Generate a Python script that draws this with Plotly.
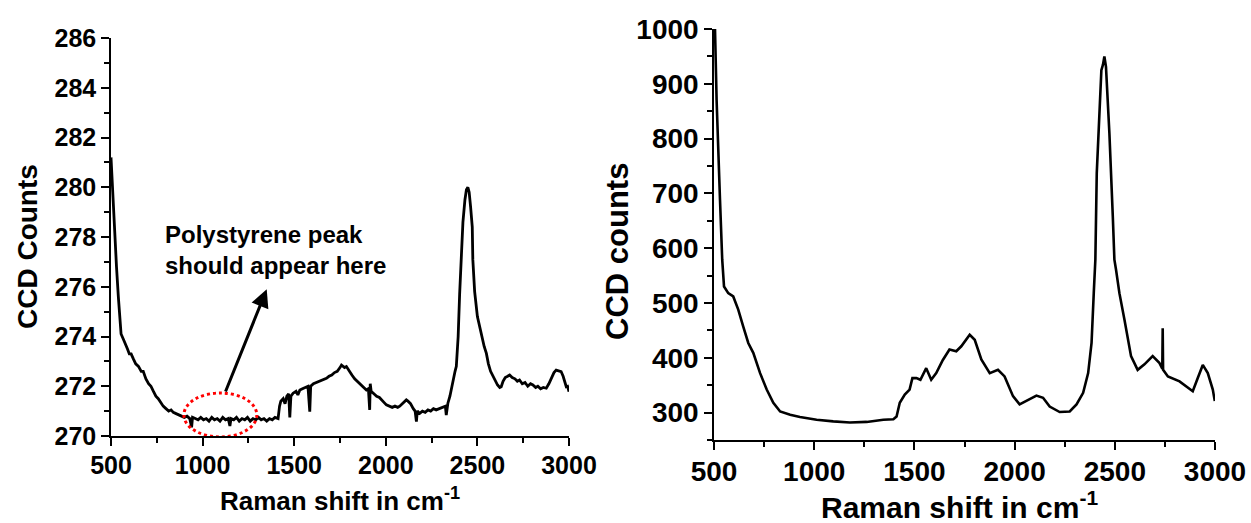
import plotly.graph_objects as go

# ---------------- data ----------------
left_shift = [500, 505, 512, 520, 530, 540, 549, 555, 567, 580, 590, 600, 610, 622, 635, 650, 665, 676,
              690, 705, 718, 731, 745, 758, 770, 785, 800, 815, 828, 840, 855, 870, 885, 900, 915, 930,
              940, 945, 960, 975, 990, 1005, 1020, 1035, 1050, 1065, 1080, 1095, 1110, 1125, 1140, 1149,
              1155, 1170, 1185, 1200, 1215, 1230, 1245, 1260, 1275, 1290, 1305, 1320, 1335, 1350, 1365,
              1380, 1395, 1412, 1420, 1427, 1440, 1450, 1460, 1470, 1476, 1482, 1494, 1510, 1520, 1531,
              1545, 1560, 1575, 1585, 1590, 1605, 1620, 1635, 1650, 1665, 1676, 1690, 1705, 1720, 1735,
              1750, 1758, 1767, 1775, 1785, 1800, 1815, 1830, 1845, 1857, 1870, 1885, 1894, 1905, 1912,
              1915, 1920, 1935, 1950, 1965, 1980, 1990, 2003, 2020, 2035, 2050, 2065, 2076, 2090, 2105,
              2112, 2121, 2135, 2150, 2160, 2167, 2172, 2185, 2200, 2215, 2230, 2245, 2260, 2275, 2294,
              2310, 2325, 2330, 2339, 2350, 2360, 2367, 2378, 2385, 2395, 2403, 2412, 2421, 2432, 2440,
              2448, 2455, 2463, 2472, 2475, 2485, 2500, 2512, 2525, 2537, 2549, 2560, 2572, 2585, 2597,
              2610, 2622, 2630, 2640, 2652, 2665, 2676, 2690, 2705, 2718, 2730, 2745, 2760, 2775, 2790,
              2803, 2818, 2830, 2845, 2860, 2876, 2890, 2905, 2918, 2930, 2945, 2957, 2968, 2978, 2985,
              2992, 3000]
left_counts = [281.2, 280.4, 279.2, 278.0, 276.8, 275.6, 274.4, 274.1, 273.9, 273.7, 273.5, 273.3, 273.3,
               273.1, 272.9, 272.8, 272.6, 272.6, 272.3, 272.1, 272.0, 271.8, 271.6, 271.5, 271.35, 271.2,
               271.1, 271.0, 271.05, 270.95, 270.9, 270.85, 270.8, 270.75, 270.8, 270.7, 270.35, 270.75,
               270.7, 270.65, 270.75, 270.65, 270.7, 270.6, 270.75, 270.65, 270.7, 270.6, 270.75, 270.65,
               270.7, 270.4, 270.7, 270.65, 270.75, 270.6, 270.7, 270.65, 270.75, 270.6, 270.7, 270.65,
               270.75, 270.65, 270.7, 270.6, 270.7, 270.65, 270.75, 270.7, 271.2, 271.4, 271.5, 271.3,
               271.6, 271.7, 270.75, 271.6, 271.72, 271.8, 271.65, 271.85, 271.9, 271.95, 272.0, 270.98,
               272.0, 272.1, 272.15, 272.2, 272.25, 272.3, 272.32, 272.4, 272.45, 272.55, 272.6, 272.75,
               272.85, 272.8, 272.75, 272.79, 272.6, 272.45, 272.3, 272.2, 272.12, 272.05, 271.95, 271.85,
               271.9, 271.05, 272.1, 271.8, 271.7, 271.6, 271.55, 271.45, 271.35, 271.25, 271.2, 271.15,
               271.2, 271.15, 271.2, 271.3, 271.4, 271.45, 271.4, 271.3, 271.1, 271.0, 270.58, 271.0,
               270.91, 271.0, 270.95, 271.05, 271.0, 271.1, 271.05, 271.11, 271.15, 271.2, 270.84, 271.32,
               271.6, 272.0, 272.2, 272.6, 272.8, 274.0, 275.7, 277.0, 278.6, 279.5, 279.9, 280.0, 279.8,
               279.2, 278.4, 277.1, 275.8, 274.8, 274.39, 273.9, 273.6, 273.32, 272.9, 272.6, 272.39,
               272.2, 272.05, 271.95, 271.98, 272.2, 272.35, 272.4, 272.45, 272.35, 272.3, 272.2, 272.25,
               272.1, 272.15, 272.0, 272.1, 272.05, 271.95, 272.0, 271.9, 271.95, 271.92, 272.1, 272.35,
               272.55, 272.65, 272.6, 272.59, 272.4, 272.2, 271.98, 272.0, 271.78]

right_shift = [505, 513, 530, 541, 550, 571, 596, 621, 646, 671, 696, 730, 763, 796, 830, 880, 929, 1012,
               1095, 1178, 1262, 1345, 1395, 1411, 1427, 1452, 1476, 1490, 1510, 1530, 1559, 1584, 1609,
               1642, 1675, 1709, 1734, 1776, 1801, 1834, 1876, 1917, 1950, 1992, 2025, 2059, 2109, 2142,
               2175, 2225, 2275, 2309, 2342, 2367, 2384, 2395, 2403, 2410, 2424, 2433, 2441, 2448, 2456,
               2473, 2490, 2498, 2506, 2523, 2548, 2581, 2614, 2648, 2689, 2722, 2737, 2739, 2741, 2765,
               2823, 2856, 2889, 2914, 2939, 2964, 2989, 2999]
right_counts = [1000, 870, 688, 579, 530, 518, 512, 488, 457, 427, 409, 372, 342, 318, 302, 296, 292, 287,
                284, 282, 283, 287, 288, 293, 318, 333, 342, 363, 363, 360, 381, 360, 372, 396, 415, 412,
                421, 442, 433, 397, 372, 378, 366, 330, 315, 321, 331, 327, 311, 301, 302, 315, 336, 372,
                427, 518, 579, 737, 871, 925, 935, 950, 931, 810, 658, 579, 561, 518, 470, 403, 378, 388,
                403, 391, 380, 454, 378, 366, 357, 348, 339, 363, 387, 372, 342, 321]

left_yticks = [270, 272, 274, 276, 278, 280, 282, 284, 286]
right_yticks = [300, 400, 500, 600, 700, 800, 900, 1000]
xticks = [500, 1000, 1500, 2000, 2500, 3000]

W, H = 1251, 523
FONT = "Liberation Sans, Arial, Helvetica, sans-serif"


def px(x):
    return x / W


def py(y):
    return 1 - y / H


fig = go.Figure()
fig.add_trace(go.Scatter(x=left_shift, y=left_counts, mode="lines",
                         line=dict(color="black", width=2.8), xaxis="x", yaxis="y",
                         showlegend=False, hoverinfo="skip"))
fig.add_trace(go.Scatter(x=right_shift, y=right_counts, mode="lines",
                         line=dict(color="black", width=2.6), xaxis="x2", yaxis="y2",
                         showlegend=False, hoverinfo="skip"))


def axis_common(size, standoff=0):
    return dict(showline=True, linecolor="black", linewidth=1.5, mirror=False, automargin=False,
                showgrid=False, zeroline=False, ticks="outside", ticklen=8, tickwidth=1.5,
                tickcolor="black", ticklabelstandoff=standoff,
                minor=dict(ticks="outside", ticklen=5, tickwidth=1.5, tickcolor="black", showgrid=False),
                tickfont=dict(family=FONT, size=size, color="black", weight="bold"))


fig.update_layout(
    width=W, height=H, margin=dict(l=0, r=0, t=0, b=0),
    paper_bgcolor="white", plot_bgcolor="white",
    xaxis=dict(domain=[px(111), px(569)], range=[500, 3000], tickvals=xticks, anchor="y",
               minor_dtick=250, **axis_common(25, -2)),
    yaxis=dict(domain=[py(436), py(38)], range=[270, 286], tickvals=left_yticks, anchor="x",
               minor_dtick=1, **axis_common(25)),
    xaxis2=dict(domain=[px(714), px(1215)], range=[500, 3000], tickvals=xticks, anchor="y2",
                minor_dtick=250, **axis_common(28, -2)),
    yaxis2=dict(domain=[py(440), py(29)], range=[250, 1000], tickvals=right_yticks, anchor="x2",
                minor_dtick=50, **axis_common(28)),
)

# Axis titles
fig.add_annotation(text="<b>Raman shift in cm<sup>-1</sup></b>", xref="paper", yref="paper",
                   x=px(340), y=py(499), xanchor="center", yanchor="middle", showarrow=False,
                   font=dict(family=FONT, size=26, color="black"))
fig.add_annotation(text="<b>CCD Counts</b>", xref="paper", yref="paper", textangle=-90,
                   x=px(27), y=py(247), xanchor="center", yanchor="middle", showarrow=False,
                   font=dict(family=FONT, size=28, color="black"))
fig.add_annotation(text="<b>Raman shift in cm<sup>-1</sup></b>", xref="paper", yref="paper",
                   x=px(959), y=py(505), xanchor="center", yanchor="middle", showarrow=False,
                   font=dict(family=FONT, size=30, color="black"))
fig.add_annotation(text="<b>CCD counts</b>", xref="paper", yref="paper", textangle=-90,
                   x=px(618), y=py(252), xanchor="center", yanchor="middle", showarrow=False,
                   font=dict(family=FONT, size=31, color="black"))

# Note and arrow
fig.add_annotation(text="<b>Polystyrene peak<br>should appear here</b>", xref="paper", yref="paper",
                   x=px(163), y=py(219), xanchor="left", yanchor="top", align="left", showarrow=False,
                   font=dict(family=FONT, size=24, color="black"))
fig.add_annotation(x=1350, y=275.9, ax=1122, ay=271.73, xref="x", yref="y", axref="x", ayref="y",
                   text="", showarrow=True, arrowhead=2, arrowsize=1.2, arrowwidth=3, arrowcolor="black")

# Dotted red ellipse
fig.add_shape(type="circle", xref="x", yref="y", x0=898, x1=1296, y0=269.96, y1=271.73,
              line=dict(color="red", width=3, dash="dot"))

fig.write_html("out.html")
